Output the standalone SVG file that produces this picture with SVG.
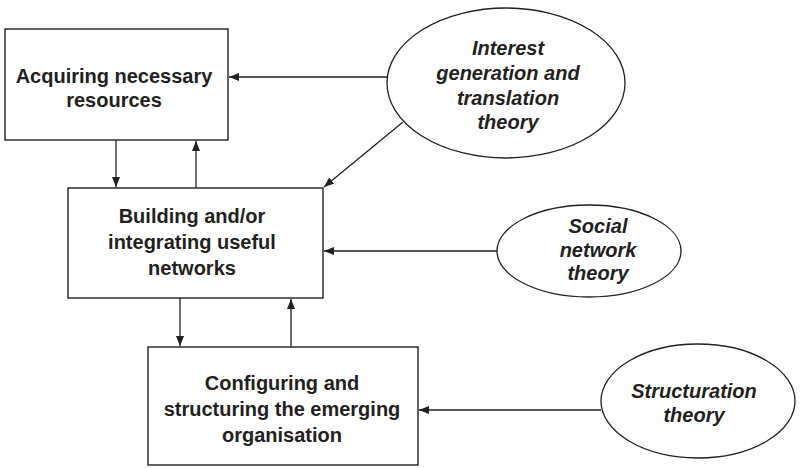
<svg xmlns="http://www.w3.org/2000/svg" width="800" height="468" viewBox="0 0 800 468">
<style>
.box{fill:#fff;stroke:#231f20;stroke-width:1.4}
.ell{fill:#fff;stroke:#231f20;stroke-width:1.3}
.t{font-family:"Liberation Sans",Arial,sans-serif;font-size:20px;font-weight:bold;fill:#231f20;text-anchor:middle}
.ti{font-style:italic}
.c{stroke:#231f20;stroke-width:1.3;fill:none;marker-end:url(#ah)}
</style>
<defs>
<marker id="ah" viewBox="0 0 10 8" refX="10" refY="4" markerWidth="10" markerHeight="8" markerUnits="userSpaceOnUse" orient="auto">
<path d="M0,0 L10,4 L0,8 Z" fill="#231f20"/>
</marker>
</defs>
<rect width="800" height="468" fill="#fff"/>
<g id="connectors">
<line class="c" x1="388" y1="77" x2="229" y2="77"/>
<line class="c" x1="403" y1="122" x2="324" y2="187"/>
<line class="c" x1="497" y1="251" x2="324" y2="251"/>
<line class="c" x1="601" y1="410" x2="419" y2="410"/>
<line class="c" x1="116" y1="140" x2="116" y2="187"/>
<line class="c" x1="196" y1="188" x2="196" y2="141"/>
<line class="c" x1="180" y1="298" x2="180" y2="346"/>
<line class="c" x1="291" y1="347" x2="291" y2="299"/>
</g>
<g id="acquiring">
<rect class="box" x="5" y="29" width="223" height="111"/>
<text class="t" x="114" y="83">Acquiring necessary</text>
<text class="t" x="114" y="107">resources</text>
</g>
<g id="building">
<rect class="box" x="68" y="188" width="255" height="110"/>
<text class="t" x="192" y="223">Building and/or</text>
<text class="t" x="192" y="249">integrating useful</text>
<text class="t" x="192" y="275">networks</text>
</g>
<g id="configuring">
<rect class="box" x="148" y="347" width="270" height="118"/>
<text class="t" x="282" y="390">Configuring and</text>
<text class="t" x="282" y="416">structuring the emerging</text>
<text class="t" x="282" y="442">organisation</text>
</g>
<g id="interest">
<ellipse class="ell" cx="506" cy="83" rx="119" ry="75"/>
<text class="t ti" x="508" y="55">Interest</text>
<text class="t ti" x="508" y="80">generation and</text>
<text class="t ti" x="508" y="105">translation</text>
<text class="t ti" x="508" y="129">theory</text>
</g>
<g id="social">
<ellipse class="ell" cx="589" cy="251" rx="92" ry="46"/>
<text class="t ti" x="598" y="233">Social</text>
<text class="t ti" x="598" y="257">network</text>
<text class="t ti" x="598" y="280">theory</text>
</g>
<g id="structuration">
<ellipse class="ell" cx="698" cy="401" rx="97" ry="57"/>
<text class="t ti" x="694" y="398">Structuration</text>
<text class="t ti" x="694" y="422">theory</text>
</g>
</svg>
